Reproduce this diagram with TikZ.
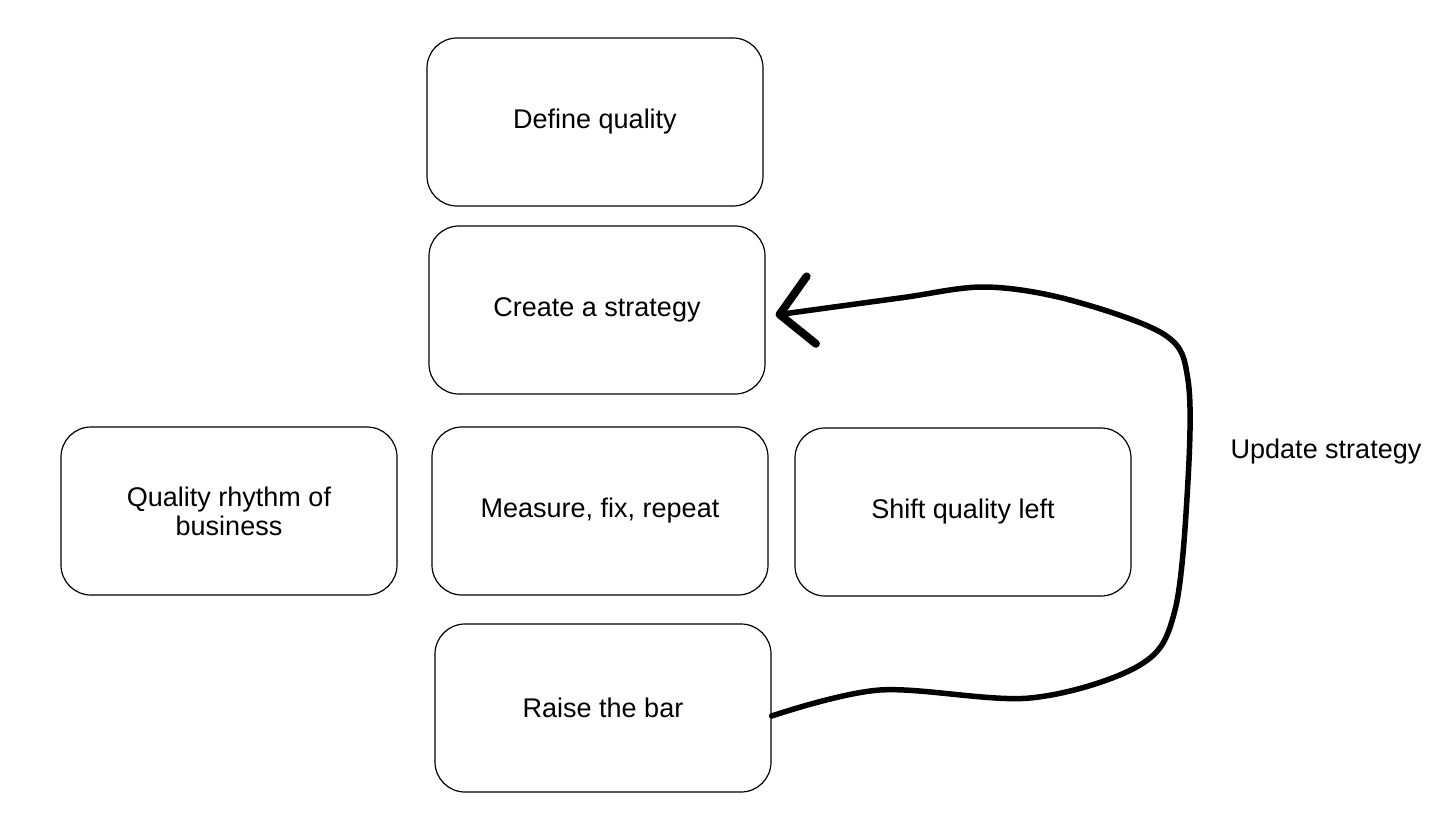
\documentclass[tikz,border=0pt]{standalone}
\usepackage{fontspec}
\setmainfont{Liberation Sans}
\usetikzlibrary{arrows.meta}
\begin{document}
\begin{tikzpicture}[x=1pt,y=-1pt,
  box/.style={draw, line width=1.2pt, rounded corners=30pt, minimum width=336pt, minimum height=168pt, align=center, font=\fontsize{27}{29}\selectfont},
  lbl/.style={font=\fontsize{27}{29}\selectfont},
  flow/.style={line width=5.5pt, line cap=round, line join=round, -{Straight Barb[length=32pt,width=68pt,line width=8pt,round]}}]
\useasboundingbox (0,0) rectangle (1450,837);
\node[box] (define) at (595,122) {Define quality};
\node[box] (strategy) at (597,310) {Create a strategy};
\node[box] (rhythm) at (229,511) {Quality rhythm of\\business};
\node[box] (measure) at (600,511) {Measure, fix, repeat};
\node[box] (shift) at (963,512) {Shift quality left};
\node[box] (raise) at (603,708) {Raise the bar};
\node[lbl] (update) at (1326,452) {Update strategy};
\coordinate (tip) at ([xshift=10pt,yshift=-5pt]strategy.east);
\draw[flow] plot[smooth, tension=0.55] coordinates {([yshift=-8pt]raise.east) (880,690) (1030,698) (1140,665) (1175,610) (1188,480) (1188,380) (1165,335) (1070,300) (985,287) (900,298) (tip)};
\end{tikzpicture}
\end{document}
